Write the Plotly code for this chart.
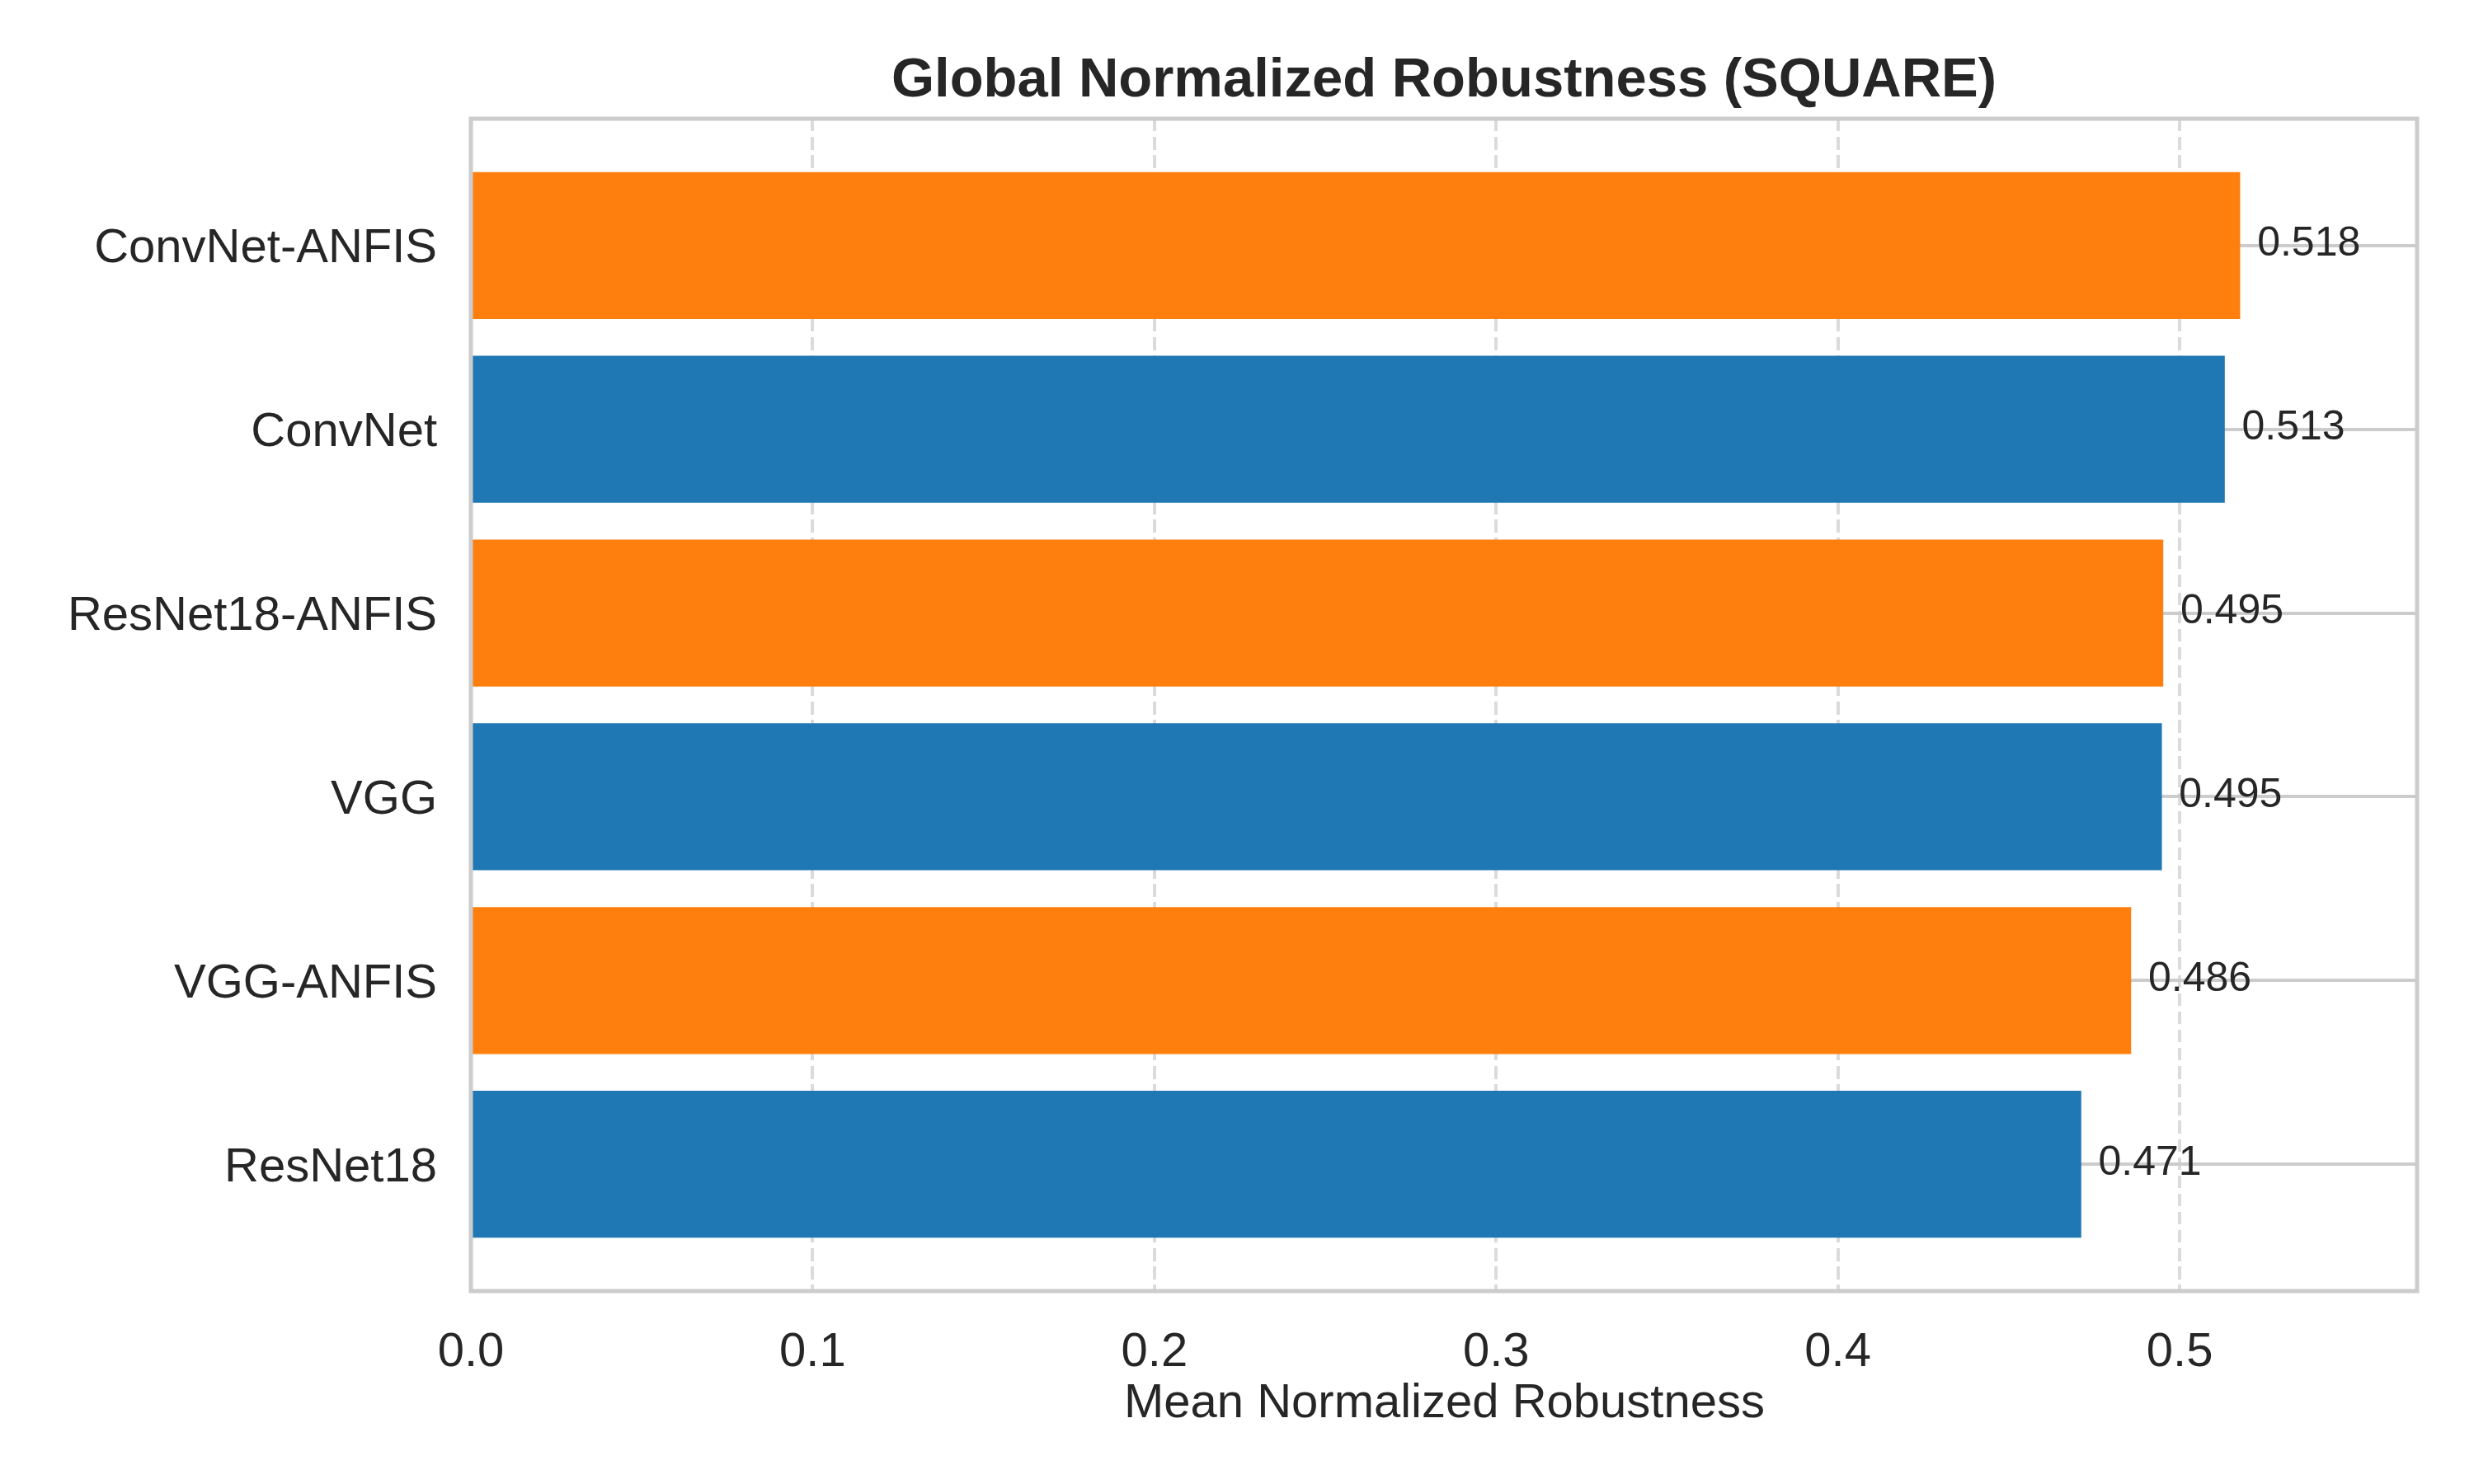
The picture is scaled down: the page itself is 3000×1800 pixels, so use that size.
import plotly.graph_objects as go

# Data (bottom to top as drawn)
models = ["ResNet18", "VGG-ANFIS", "VGG", "ResNet18-ANFIS", "ConvNet", "ConvNet-ANFIS"]
robustness = [0.4712, 0.4858, 0.4948, 0.4952, 0.5132, 0.5177]
x_ticks = [0.0, 0.1, 0.2, 0.3, 0.4, 0.5]

BLUE = "#1f77b4"
ORANGE = "#ff7f0e"
colors = [ORANGE if "ANFIS" in m else BLUE for m in models]
FONT = "Liberation Sans, Arial, sans-serif"
TXT = "#262626"

# page body has an 8px margin, so the figure is offset by 8px
OFF = 8
W, H = 3000 - OFF, 1800 - OFF
L, R, T, B = 571 - OFF, 69, 144 - OFF, 234

fig = go.Figure()
fig.add_trace(go.Bar(
    y=models, x=robustness, orientation="h", width=0.8,
    marker=dict(color=colors, line=dict(width=0)),
    hoverinfo="x+y", showlegend=False,
))
fig.add_trace(go.Scatter(
    y=models, x=[v + 0.005 for v in robustness], mode="text",
    text=[f"{v:.3f}" for v in robustness], textposition="middle right",
    textfont=dict(family=FONT, size=50, color=TXT),
    cliponaxis=False, showlegend=False, hoverinfo="skip",
))

xmax = max(robustness) * 1.1
fig.update_layout(
    width=W, height=H,
    margin=dict(l=L, r=R, t=T, b=B, pad=0),
    paper_bgcolor="white", plot_bgcolor="white",
    font=dict(family=FONT, color=TXT),
    title=dict(text="Global Normalized Robustness (SQUARE)", x=(L + (W - L - R) / 2) / W,
               xanchor="center", y=1 - (94 - OFF) / H, yanchor="middle", yref="container",
               font=dict(family=FONT, size=67, color=TXT, weight="bold")),
    bargap=0.2,
    xaxis=dict(range=[0, xmax], tickvals=x_ticks, ticktext=[f"{t:.1f}" for t in x_ticks],
               showgrid=True, gridcolor="#dbdbdb", gridwidth=4, griddash="15.4px,6.7px",
               zeroline=False, showline=False, ticks="", ticklabelstandoff=32,
               tickfont=dict(family=FONT, size=58, color=TXT)),
    yaxis=dict(range=[-0.69, 5.69], categoryorder="array", categoryarray=models,
               showgrid=True, gridcolor="#cccccc", gridwidth=4,
               zeroline=False, showline=False, ticks="", ticklabelstandoff=40,
               tickfont=dict(family=FONT, size=58, color=TXT)),
    shapes=[dict(type="rect", xref="paper", yref="paper", x0=0, x1=1, y0=0, y1=1,
                 line=dict(color="#cccccc", width=5), fillcolor="rgba(0,0,0,0)", layer="above")],
    annotations=[dict(text="Mean Normalized Robustness", xref="paper", yref="paper",
                      x=0.5, y=-(1698.5 - 1566) / (H - T - B), xanchor="center", yanchor="middle",
                      showarrow=False, font=dict(family=FONT, size=58, color=TXT))],
)

fig.write_html("out.html")
